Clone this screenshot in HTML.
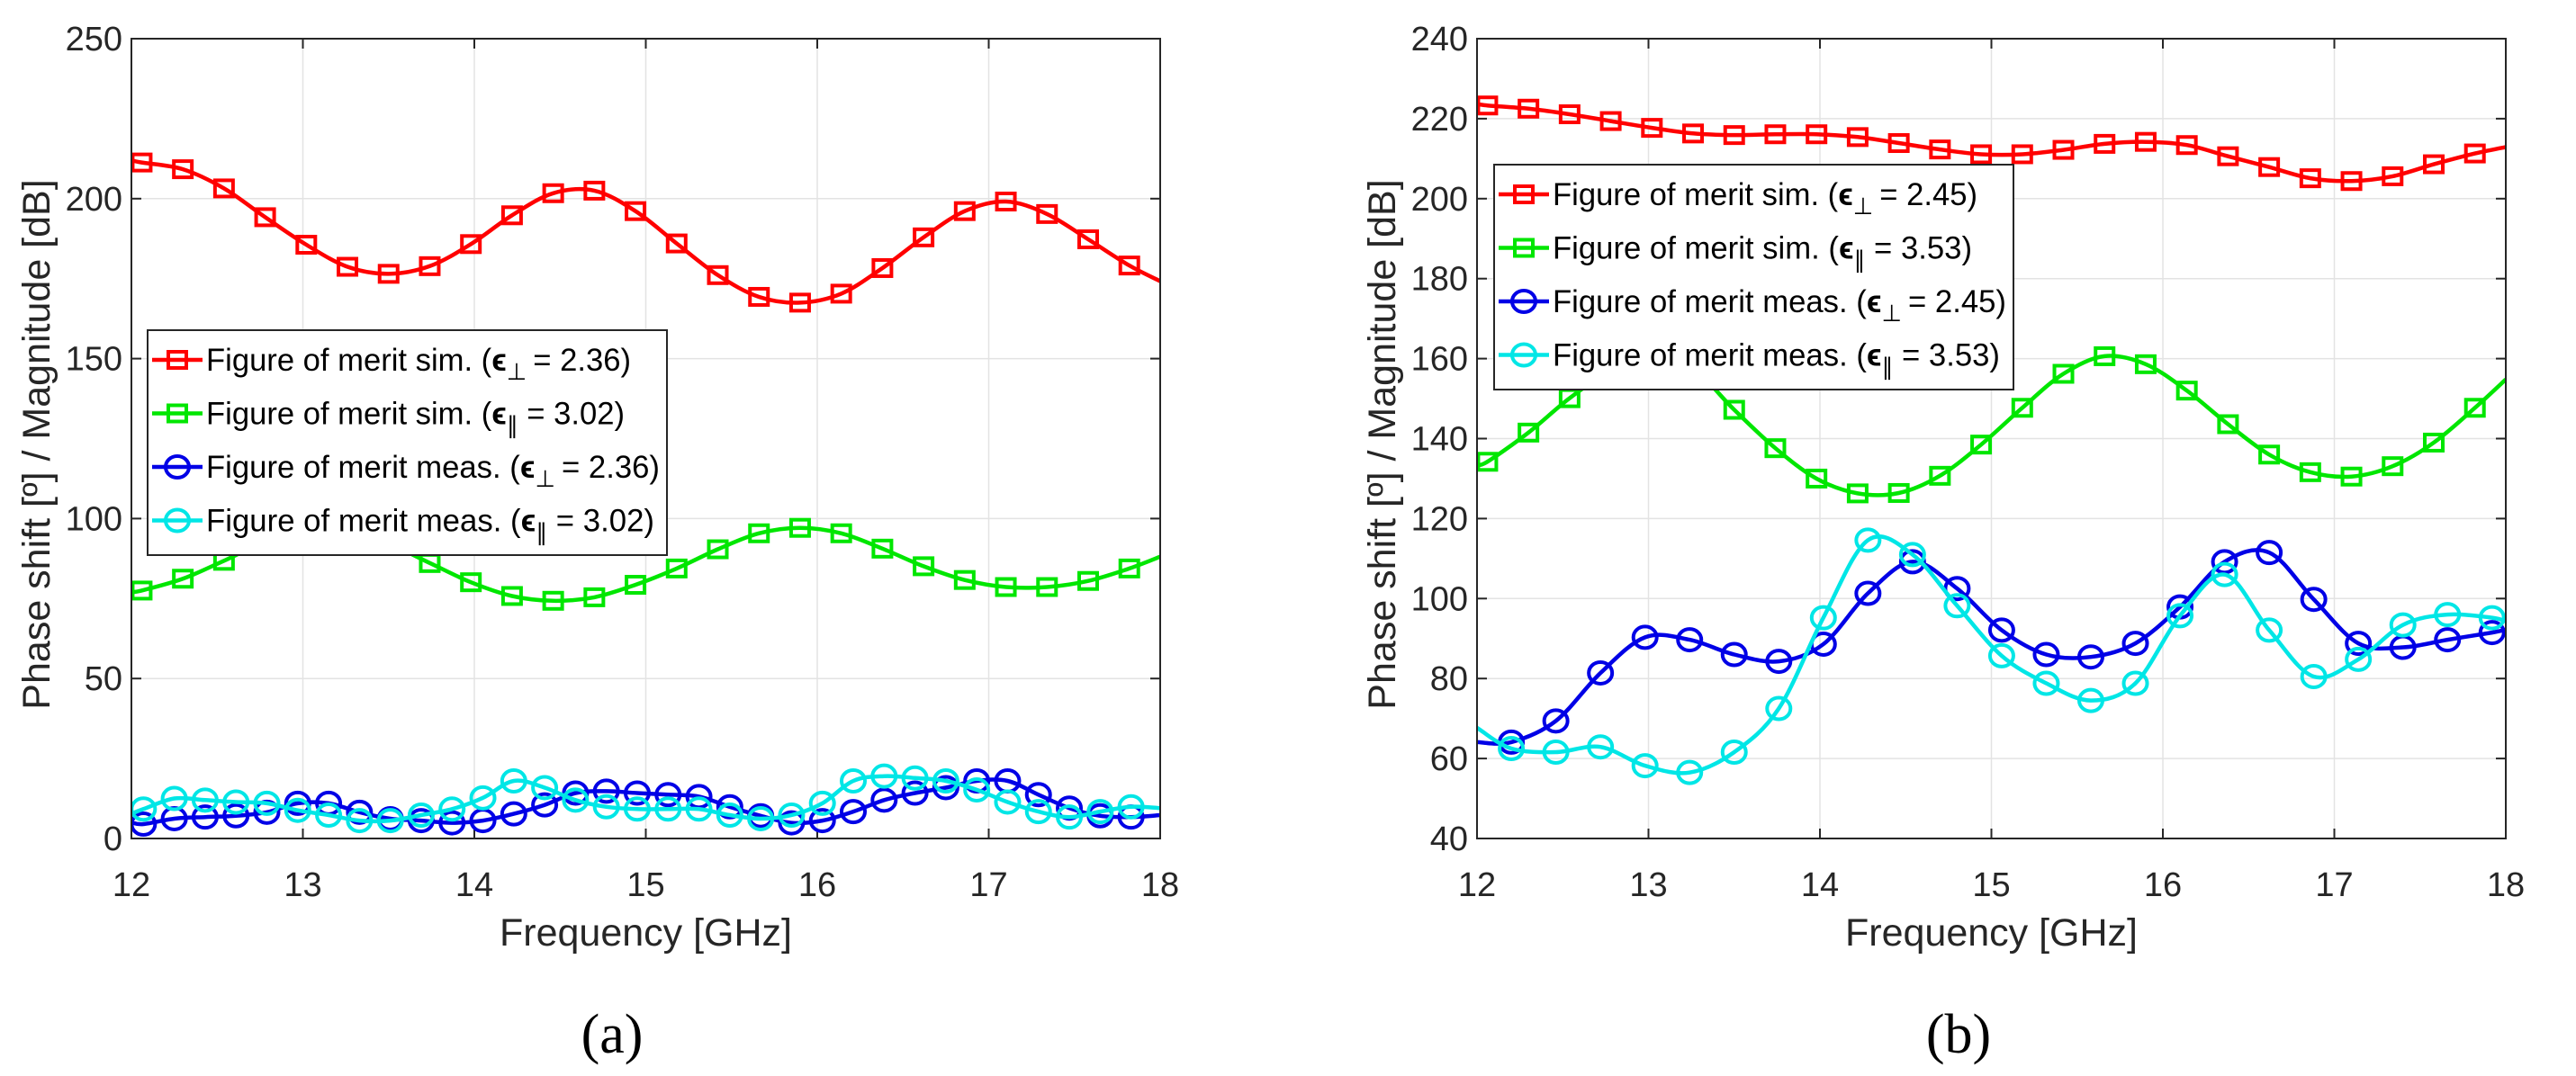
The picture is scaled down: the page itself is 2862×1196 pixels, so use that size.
<!DOCTYPE html>
<html><head><meta charset="utf-8">
<style>
html,body{margin:0;padding:0;background:#fff;}
svg{display:block;}
text{font-family:"Liberation Sans",sans-serif;}
</style></head>
<body>
<svg id="fig" width="2862" height="1196" viewBox="0 0 2862 1196" xmlns="http://www.w3.org/2000/svg"></svg>
<script>
// ---- data ----
const simFreq = [12.06,12.30,12.54,12.78,13.02,13.26,13.50,13.74,13.98,14.22,14.46,14.70,14.94,15.18,15.42,15.66,15.90,16.14,16.38,16.62,16.86,17.10,17.34,17.58,17.82];
const measFreqA = [12.07,12.25,12.43,12.61,12.79,12.97,13.15,13.33,13.51,13.69,13.87,14.05,14.23,14.41,14.59,14.77,14.95,15.13,15.31,15.49,15.67,15.85,16.03,16.21,16.39,16.57,16.75,16.93,17.11,17.29,17.47,17.65,17.83];
const measFreqB = [12.20,12.46,12.72,12.98,13.24,13.50,13.76,14.02,14.28,14.54,14.80,15.06,15.32,15.58,15.84,16.10,16.36,16.62,16.88,17.14,17.40,17.66,17.92];

const aSimPerp = [211.3,209.2,203.2,194.2,185.6,178.7,176.5,178.9,185.8,194.8,201.7,202.5,196.1,186.0,176.1,169.3,167.5,170.3,178.3,187.9,196.1,199.1,195.2,187.3,179.1];
const aSimPerpEdge = [212.0,174.2];
const aSimPar = [77.5,81.2,86.8,92.6,95.0,95.5,92.1,86.1,80.1,75.8,74.3,75.4,79.3,84.4,90.4,95.4,97.1,95.4,90.6,85.1,80.8,78.6,78.6,80.5,84.4];
const aSimParEdge = [77.1,88.1];
const aMeasPerp = [4.5,6.2,6.7,7.1,8.2,11.0,11.0,8.2,6.2,5.6,4.9,5.6,7.7,10.5,14.2,14.8,14.2,13.7,13.1,9.9,7.1,4.9,5.6,8.4,12.0,14.2,15.9,18.0,18.0,13.7,9.5,7.1,6.7];
const aMeasPerpEdge = [5.0,7.3];
const aMeasPar = [9.2,12.5,12.0,11.4,11.0,8.8,7.3,5.6,5.6,7.3,9.2,12.7,18.0,15.9,12.0,9.9,9.2,9.2,9.2,7.3,6.2,7.3,11.0,18.0,19.5,18.9,18.0,15.2,11.4,8.4,6.7,8.4,9.9];
const aMeasParEdge = [7.7,9.5];

const bSimPerp = [223.3,222.5,221.1,219.4,217.7,216.3,215.9,216.1,216.1,215.4,213.9,212.3,211.1,211.1,212.2,213.7,214.2,213.4,210.6,207.9,205.1,204.4,205.6,208.6,211.3];
const bSimPerpEdge = [223.7,212.9];
const bSimPar = [134.2,141.5,150.1,157.0,161.0,157.5,147.2,137.6,130.0,126.3,126.4,130.7,138.5,147.7,156.2,160.6,158.6,152.0,143.6,136.0,131.6,130.5,133.1,139.0,147.7];
const bSimParEdge = [133.5,154.8];
const bMeasPerp = [64.1,69.4,81.4,90.3,89.7,86.0,84.3,88.6,101.3,109.2,102.5,92.1,86.0,85.4,88.8,97.9,109.2,111.5,99.8,88.8,87.8,89.7,91.5];
const bMeasPerpEdge = [64.1,92.2];
const bMeasPar = [62.5,61.6,62.9,58.2,56.5,61.6,72.5,95.2,114.6,111.0,98.2,85.7,78.8,74.5,78.8,95.7,106.0,92.1,80.5,84.8,93.4,96.0,95.2];
const bMeasParEdge = [67.7,94.3];

const xTicks = [12,13,14,15,16,17,18];
const aYTicks = [0,50,100,150,200,250];
const bYTicks = [40,60,80,100,120,140,160,180,200,220,240];

// ---- drawing ----
const NS = "http://www.w3.org/2000/svg";
const svg = document.getElementById('fig');
function mk(tag, attrs, parent){
  const e = document.createElementNS(NS, tag);
  for (const k in attrs) e.setAttribute(k, attrs[k]);
  (parent||svg).appendChild(e);
  return e;
}
function crPath(pts){
  let d = "M"+pts[0][0].toFixed(1)+","+pts[0][1].toFixed(1);
  for (let i=0;i<pts.length-1;i++){
    const p0=pts[Math.max(0,i-1)], p1=pts[i], p2=pts[i+1], p3=pts[Math.min(pts.length-1,i+2)];
    const c1=[p1[0]+(p2[0]-p0[0])/6, p1[1]+(p2[1]-p0[1])/6];
    const c2=[p2[0]-(p3[0]-p1[0])/6, p2[1]-(p3[1]-p1[1])/6];
    d += " C"+c1[0].toFixed(1)+","+c1[1].toFixed(1)+" "+c2[0].toFixed(1)+","+c2[1].toFixed(1)+" "+p2[0].toFixed(1)+","+p2[1].toFixed(1);
  }
  return d;
}
function marker(g, type, x, y, color){
  let m;
  if (type==='sq') m = mk('rect',{x:x-10,y:y-9,width:20,height:18,fill:'none',stroke:color,'stroke-width':4},g);
  else m = mk('ellipse',{cx:x,cy:y,rx:13,ry:12,fill:'none',stroke:color,'stroke-width':4},g);
  
  
}

function panel(p){
  const L=p.left, T=43, R=p.right, B=932;
  const sx = f => L + (f-12)/6*(R-L);
  const sy = v => B - (v-p.ymin)/(p.ymax-p.ymin)*(B-T);
  const g = mk('g',{});
  
  
  const clipId = 'clip'+p.id;
  const cp = mk('clipPath',{id:clipId},g);
  mk('rect',{x:L,y:T,width:R-L,height:B-T},cp);
  const grid = mk('g',{stroke:'#e3e3e3','stroke-width':1.5},g);
  
  
  xTicks.forEach(t=>{ mk('line',{x1:sx(t),x2:sx(t),y1:T,y2:B},grid); });
  p.yTicks.forEach(t=>{ mk('line',{x1:L,x2:R,y1:sy(t),y2:sy(t)},grid); });
  const tk = mk('g',{stroke:'#262626','stroke-width':2},g);
  xTicks.forEach(t=>{
    mk('line',{x1:sx(t),x2:sx(t),y1:B,y2:B-11},tk);
    mk('line',{x1:sx(t),x2:sx(t),y1:T,y2:T+11},tk);
    const tx = mk('text',{x:sx(t),y:996,'text-anchor':'middle','font-size':38,fill:'#262626'},g);
    tx.textContent = t;
    
    
  });
  p.yTicks.forEach(t=>{
    mk('line',{x1:L,x2:L+11,y1:sy(t),y2:sy(t)},tk);
    mk('line',{x1:R,x2:R-11,y1:sy(t),y2:sy(t)},tk);
    const tx = mk('text',{x:L-10,y:sy(t)+13,'text-anchor':'end','font-size':38,fill:'#262626'},g);
    tx.textContent = t;
    
    
  });
  p.series.forEach(s=>{
    const sg = mk('g',{'clip-path':'url(#'+clipId+')'},g);
    
    
    const pts = [[sx(12), sy(s.edge[0])]];
    s.f.forEach((f,i)=>pts.push([sx(f), sy(s.v[i])]));
    pts.push([sx(18), sy(s.edge[1])]);
    const path = mk('path',{d:crPath(pts),fill:'none',stroke:s.c,'stroke-width':4.5,'stroke-linejoin':'round'},sg);
    
    
    s.f.forEach((f,i)=>marker(sg, s.m, sx(f), sy(s.v[i]), s.c));
  });
  const box = mk('rect',{x:L,y:T,width:R-L,height:B-T,fill:'none',stroke:'#262626','stroke-width':2},g);
  
  
  const xl = mk('text',{x:(L+R)/2,y:1051,'text-anchor':'middle','font-size':43,fill:'#262626'},g);
  xl.textContent = 'Frequency [GHz]';
  
  
  const yl = mk('text',{x:0,y:0,'text-anchor':'middle','font-size':43,fill:'#262626',transform:'translate('+(p.ylabX)+',494) rotate(-90)'},g);
  yl.textContent = 'Phase shift [º] / Magnitude [dB]';
  
  
  const cap = mk('text',{x:p.capX,y:1170,'text-anchor':'middle','font-size':62,fill:'#000',style:'font-family:"Liberation Serif",serif'},g);
  cap.textContent = p.cap;
  
  
  const lg = mk('g',{},g);
  
  
  mk('rect',{x:p.lx,y:p.ly,width:577,height:250,fill:'#fff',stroke:'#262626','stroke-width':2},lg);
  p.series.forEach((s,i)=>{
    const y = p.ly+33+i*59.5;
    const e = mk('g',{},lg);
    
    
    mk('line',{x1:p.lx+5,x2:p.lx+61,y1:y,y2:y,stroke:s.c,'stroke-width':4.5},e);
    marker(e, s.m, p.lx+33, y, s.c);
    const t = mk('text',{x:p.lx+65,y:y+12,'font-size':35,fill:'#000',textLength:s.tl,lengthAdjust:'spacingAndGlyphs'},e);
    const a = mk('tspan',{},t); a.textContent = s.lab+' (';
    const b = mk('tspan',{'font-weight':'bold'},t); b.textContent = 'ϵ';
    const c = mk('tspan',{dy:10,'font-size':26},t); c.textContent = s.sub;
    const d = mk('tspan',{dy:-10},t); d.textContent = ' = '+s.val+')';
  });
}

panel({id:'a', name:'chart-a', left:146, right:1289, ymin:0, ymax:250, yTicks:aYTicks, ylabX:55, capX:680, cap:'(a)', lx:164, ly:367,
  series:[
    {name:'sim-perp-series', f:simFreq, v:aSimPerp, edge:aSimPerpEdge, c:'#ff0000', m:'sq', lab:'Figure of merit sim.', sub:'⊥ ', val:'2.36', tl:472},
    {name:'sim-par-series', f:simFreq, v:aSimPar, edge:aSimParEdge, c:'#00e600', m:'sq', lab:'Figure of merit sim.', sub:'∥', val:'3.02', tl:465},
    {name:'meas-perp-series', f:measFreqA, v:aMeasPerp, edge:aMeasPerpEdge, c:'#0000e6', m:'ci', lab:'Figure of merit meas.', sub:'⊥ ', val:'2.36', tl:504},
    {name:'meas-par-series', f:measFreqA, v:aMeasPar, edge:aMeasParEdge, c:'#00e6e6', m:'ci', lab:'Figure of merit meas.', sub:'∥', val:'3.02', tl:498}
  ]});
panel({id:'b', name:'chart-b', left:1641, right:2784, ymin:40, ymax:240, yTicks:bYTicks, ylabX:1550, capX:2176, cap:'(b)', lx:1660, ly:183,
  series:[
    {name:'sim-perp-series', f:simFreq, v:bSimPerp, edge:bSimPerpEdge, c:'#ff0000', m:'sq', lab:'Figure of merit sim.', sub:'⊥ ', val:'2.45', tl:472},
    {name:'sim-par-series', f:simFreq, v:bSimPar, edge:bSimParEdge, c:'#00e600', m:'sq', lab:'Figure of merit sim.', sub:'∥', val:'3.53', tl:466},
    {name:'meas-perp-series', f:measFreqB, v:bMeasPerp, edge:bMeasPerpEdge, c:'#0000e6', m:'ci', lab:'Figure of merit meas.', sub:'⊥ ', val:'2.45', tl:504},
    {name:'meas-par-series', f:measFreqB, v:bMeasPar, edge:bMeasParEdge, c:'#00e6e6', m:'ci', lab:'Figure of merit meas.', sub:'∥', val:'3.53', tl:497}
  ]});
</script>
</body></html>
